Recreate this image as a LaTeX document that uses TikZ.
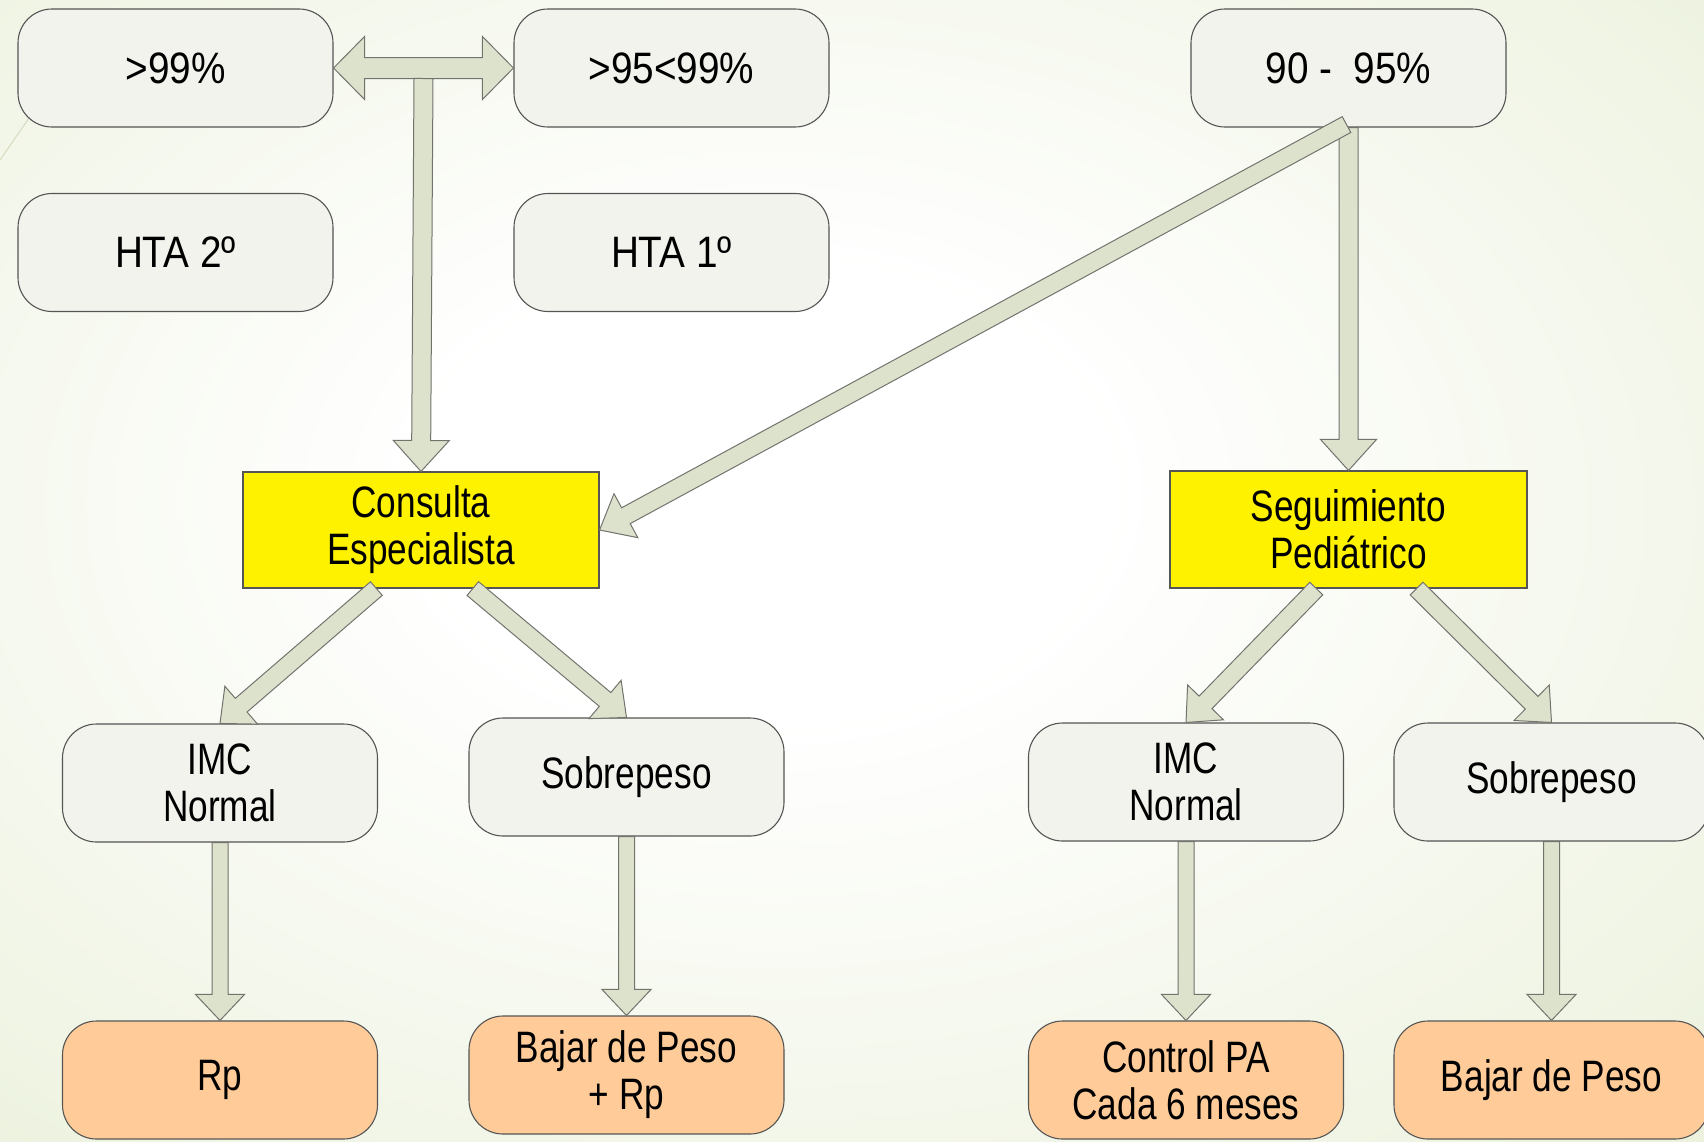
\documentclass[tikz,border=0pt]{standalone}
\usepackage{fontspec}
\setmainfont{Liberation Sans}
\newfontfamily\topfont{Liberation Sans}[FakeStretch=0.88]
\newfontfamily\condfont{Liberation Sans}[FakeStretch=0.80]
\usetikzlibrary{calc}
\definecolor{bggreen}{RGB}{226,235,204}
\definecolor{boxfill}{RGB}{242,243,236}
\definecolor{boxline}{RGB}{85,85,85}
\definecolor{arrfill}{RGB}{221,226,205}
\definecolor{arrline}{RGB}{115,115,110}
\definecolor{peach}{RGB}{255,204,153}
\definecolor{faint}{RGB}{212,220,192}
\pgfdeclareradialshading{bgshade}{\pgfpoint{-3bp}{4bp}}{color(0bp)=(white); color(10bp)=(white); color(52bp)=(bggreen); color(75bp)=(bggreen)}
\newcommand\blockarr[5]{%
  \coordinate (bahd) at ($(#2)!#5!(#1)$);
  \filldraw[arrowst] ($(#1)!#3!90:(#2)$) -- ($(bahd)!#3!-90:(#1)$) -- ($(bahd)!#4!-90:(#1)$) -- (#2) -- ($(bahd)!#4!90:(#1)$) -- ($(bahd)!#3!90:(#1)$) -- ($(#1)!#3!-90:(#2)$) -- cycle;}
\newcommand\dblarr[5]{%
  \coordinate (bahd) at ($(#2)!#5!(#1)$);
  \coordinate (bahs) at ($(#1)!#5!(#2)$);
  \filldraw[arrowst] (#1) -- ($(bahs)!#4!90:(#2)$) -- ($(bahs)!#3!90:(#2)$) -- ($(bahd)!#3!-90:(#1)$) -- ($(bahd)!#4!-90:(#1)$) -- (#2) -- ($(bahd)!#4!90:(#1)$) -- ($(bahd)!#3!90:(#1)$) -- ($(bahs)!#3!-90:(#2)$) -- ($(bahs)!#4!-90:(#2)$) -- cycle;}
\tikzset{
  arrowst/.style={fill=arrfill, draw=arrline, line width=1pt, line join=miter},
  rbox/.style={draw=boxline, line width=1.1pt, fill=boxfill, rounded corners=34pt,
    minimum width=315pt, minimum height=118pt, inner sep=0pt, align=center,
    font=\topfont\fontsize{44}{47}\selectfont},
  cbox/.style={rbox, font=\condfont\fontsize{44}{47}\selectfont},
  obox/.style={cbox, fill=peach},
  ybox/.style={draw=boxline, line width=1.1pt, fill=yellow, minimum width=356pt,
    minimum height=116pt, inner sep=0pt, align=center,
    font=\condfont\fontsize{44}{47}\selectfont}
}
\begin{document}
\begin{tikzpicture}[x=1pt,y=-1pt]
\clip (0,0) rectangle (1704,1141);
\useasboundingbox (0,0) rectangle (1704,1141);
\shade[shading=bgshade] (0,0) rectangle (1704,1141);
\draw[faint, line width=1pt] (0,160) -- (36,108);

\node[rbox] (p99) at (175.5,68) {>99\%};
\node[rbox] (p95) at (671.5,68) {>95<99\%};
\node[rbox] (p90) at (1348.5,68) {90 -\ \ 95\%};
\node[rbox] (hta2) at (175.5,252.5) {HTA 2º};
\node[rbox] (hta1) at (671.5,252.5) {HTA 1º};
\node[ybox] (cons) at (421,530) {Consulta\\Especialista};
\node[ybox, minimum width=357pt, minimum height=117pt] (seg) at (1348.5,529.5) {Seguimiento\\Pediátrico};
\node[cbox] (imcL) at (220,783) {IMC\\Normal};
\node[cbox] (sobL) at (626.5,777) {Sobrepeso};
\node[cbox] (imcR) at (1186,782) {IMC\\Normal};
\node[cbox] (sobR) at (1551.5,782) {Sobrepeso};
\node[obox] (rp) at (220,1080) {Rp};
\node[obox] (bajL) at (626.5,1075) {Bajar de Peso\\+ Rp};
\node[obox] (ctrl) at (1186,1080) {Control PA\\Cada 6 meses};
\node[obox] (bajR) at (1551.5,1080) {Bajar de Peso};

% connectors
\dblarr{p99.east}{p95.west}{10.5pt}{31.5pt}{31pt}
\coordinate (j1) at ($(p99.east)!0.5!(p95.west)+(0,10.5)$);
\blockarr{j1}{cons.north}{9.5pt}{28pt}{31pt}
\blockarr{p90.south}{seg.north}{9.5pt}{28pt}{31pt}
\coordinate (d0) at ($(p90.south)+(-2,-3)$);
\blockarr{d0}{cons.east}{9pt}{25pt}{30pt}
\coordinate (c1) at ($(cons.south west)!0.375!(cons.south east)$);
\coordinate (c2) at ($(cons.south west)!0.645!(cons.south east)$);
\coordinate (s1) at ($(seg.south west)!0.41!(seg.south east)$);
\coordinate (s2) at ($(seg.south west)!0.69!(seg.south east)$);
\blockarr{c1}{imcL.north}{9pt}{25pt}{28pt}
\blockarr{c2}{sobL.north}{9pt}{25pt}{28pt}
\blockarr{s1}{imcR.north}{9pt}{25pt}{28pt}
\blockarr{s2}{sobR.north}{9pt}{25pt}{28pt}
\blockarr{imcL.south}{rp.north}{8pt}{24.5pt}{26pt}
\blockarr{sobL.south}{bajL.north}{8pt}{24.5pt}{26pt}
\blockarr{imcR.south}{ctrl.north}{8pt}{24.5pt}{26pt}
\blockarr{sobR.south}{bajR.north}{8pt}{24.5pt}{26pt}
\end{tikzpicture}
\end{document}
